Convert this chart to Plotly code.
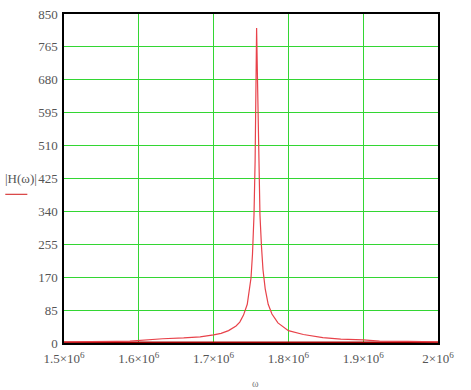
import plotly.graph_objects as go

# frequency (rad/s) and |H(omega)|
omega = [1.500e6, 1.540e6, 1.570e6, 1.588e6, 1.600e6, 1.632e6, 1.660e6, 1.682e6,
         1.700e6, 1.710e6, 1.720e6, 1.730e6, 1.735e6, 1.740e6, 1.745e6, 1.748e6,
         1.750e6, 1.752e6, 1.754e6, 1.7555e6, 1.7565e6, 1.7575e6, 1.7585e6,
         1.7595e6, 1.7605e6, 1.762e6, 1.764e6, 1.766e6, 1.769e6, 1.773e6,
         1.778e6, 1.786e6, 1.800e6, 1.820e6, 1.846e6, 1.870e6, 1.900e6,
         1.922e6, 1.960e6, 2.000e6]
H_mag = [3, 3, 4, 5, 7, 11, 13, 16,
         21, 25, 32, 44, 54, 72, 100, 135,
         168, 230, 330, 470, 680, 814, 700,
         600, 500, 330, 250, 190, 140, 100,
         75, 52, 32, 22, 14, 10, 8,
         5, 4, 3]

# baseline trace along zero
base_x = [1.5e6, 2.0e6]
base_y = [0, 0]

x_ticks = [1.5e6, 1.6e6, 1.7e6, 1.8e6, 1.9e6, 2.0e6]
x_tick_text = ["1.5×10<sup>6</sup>", "1.6×10<sup>6</sup>", "1.7×10<sup>6</sup>",
               "1.8×10<sup>6</sup>", "1.9×10<sup>6</sup>", "2×10<sup>6</sup>"]
y_ticks = [0, 85, 170, 255, 340, 425, 510, 595, 680, 765, 850]

font_family = "Liberation Serif"
grid_color = "#33d633"

fig = go.Figure()
fig.add_trace(go.Scatter(x=base_x, y=base_y, mode="lines",
                         line=dict(color="#a00000", width=3), hoverinfo="skip"))
fig.add_trace(go.Scatter(x=omega, y=H_mag, mode="lines",
                         line=dict(color="#e8424a", width=1.2)))

fig.update_layout(
    width=471, height=390,
    margin=dict(l=64, r=33, t=14, b=47),
    paper_bgcolor="white", plot_bgcolor="white",
    showlegend=False,
    font=dict(family=font_family, size=13, color="#555555"),
)
fig.update_xaxes(range=[1.5e6, 2.0e6], tickvals=x_ticks, ticktext=x_tick_text,
                 showgrid=True, gridcolor=grid_color, gridwidth=1,
                 showline=True, linecolor="black", linewidth=1.5, mirror=True,
                 ticks="outside", ticklen=3, tickcolor="rgba(0,0,0,0)",
                 zeroline=False, automargin=False,
                 tickfont=dict(size=13, color="#555555"))
fig.update_yaxes(range=[0, 850], tickvals=y_ticks,
                 showgrid=True, gridcolor=grid_color, gridwidth=1,
                 showline=True, linecolor="black", linewidth=1.5, mirror=True,
                 ticks="outside", ticklen=2, tickcolor="rgba(0,0,0,0)",
                 zeroline=False, automargin=False,
                 tickfont=dict(size=13, color="#555555"))

fig.add_annotation(text="|H(ω)|", xref="paper", yref="paper",
                   x=-0.068, y=0.5, xanchor="right", yanchor="middle",
                   showarrow=False, font=dict(size=13, color="#555555", family=font_family))
fig.add_shape(type="line", xref="paper", yref="paper",
              x0=-0.157, x1=-0.098, y0=0.452, y1=0.452,
              line=dict(color="#d01818", width=1))
fig.add_annotation(text="ω", xref="paper", yref="paper",
                   x=0.512, y=-0.1, xanchor="center", yanchor="top",
                   showarrow=False, font=dict(size=10, color="#777777", family=font_family))

fig.write_html("out.html", config={"displayModeBar": False},
               post_script="document.body.style.margin='0';")
